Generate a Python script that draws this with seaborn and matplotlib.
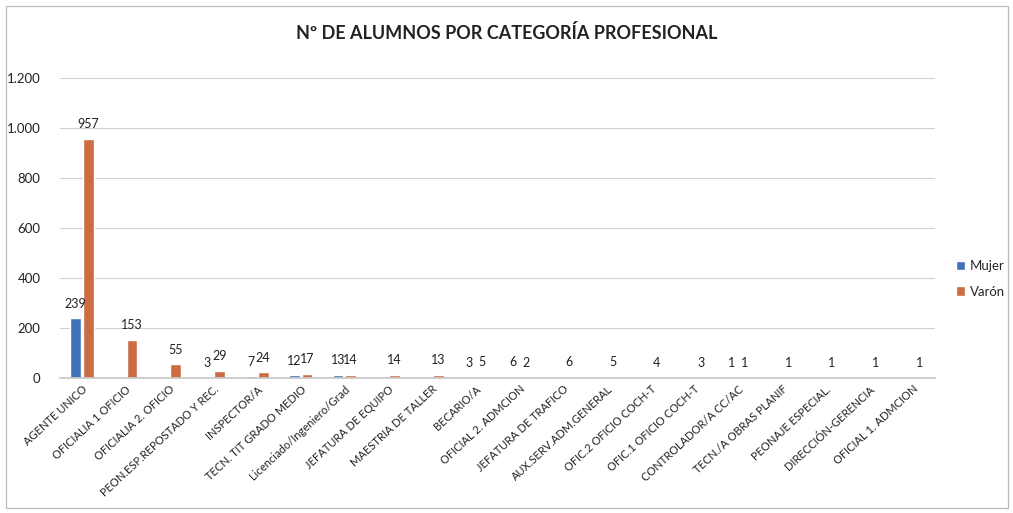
import numpy as np
import pandas as pd
import matplotlib
matplotlib.use("Agg")
import matplotlib.pyplot as plt
from matplotlib.patches import Rectangle
import seaborn as sns

categorias = [
    "AGENTE UNICO", "OFICIALIA 1 OFICIO", "OFICIALIA 2. OFICIO",
    "PEON.ESP.REPOSTADO Y REC.", "INSPECTOR/A", "TECN. TIT GRADO MEDIO",
    "Licenciado/Ingeniero/Grad", "JEFATURA DE EQUIPO", "MAESTRIA DE TALLER",
    "BECARIO/A", "OFICIAL 2. ADMCION", "JEFATURA DE TRAFICO",
    "AUX.SERV.ADM.GENERAL", "OFIC.2 OFICIO COCH-T", "OFIC.1 OFICIO COCH-T",
    "CONTROLADOR/A CC/AC", "TECN./A OBRAS PLANIF", "PEONAJE ESPECIAL.",
    "DIRECCIÓN-GERENCIA", "OFICIAL 1. ADMCION",
]
mujer = [239, np.nan, np.nan, 3, 7, 12, 13, np.nan, np.nan, 3, 6, np.nan,
         np.nan, np.nan, np.nan, 1, np.nan, np.nan, np.nan, np.nan]
varon = [957, 153, 55, 29, 24, 17, 14, 14, 13, 5, 2, 6, 5, 4, 3, 1, 1, 1, 1, 1]
sexos = ["Mujer", "Varón"]
colores = ["#2E6DC9", "#E2632C"]
y_ticks = [0, 200, 400, 600, 800, 1000, 1200]

df = pd.DataFrame({
    "categoria": categorias * 2,
    "sexo": [sexos[0]] * len(categorias) + [sexos[1]] * len(categorias),
    "alumnos": list(mujer) + list(varon),
})

sns.set_theme(style="white")
plt.rcParams["font.family"] = ["Lato", "DejaVu Sans"]

fig = plt.figure(figsize=(10.13, 5.13), dpi=100)
ax = fig.add_axes([60 / 1013, 1 - 378 / 513, 875 / 1013, 300 / 513])

sns.barplot(data=df.dropna(), x="categoria", y="alumnos", hue="sexo",
            order=categorias, hue_order=sexos, palette=colores,
            width=0.58, gap=0.15, ax=ax, legend=True)

for cont in ax.containers:
    ax.bar_label(cont, fmt="%d", padding=6, fontsize=9, color="#222222")

ax.set_ylim(0, 1200)
ax.set_yticks(y_ticks)
ax.set_yticklabels([f"{v:,}".replace(",", ".") for v in y_ticks],
                   fontsize=9.5, color="#222222")
ax.yaxis.grid(True, color="#D0D0D0", linewidth=0.8)
ax.set_axisbelow(True)
for s in ["top", "right", "left"]:
    ax.spines[s].set_visible(False)
ax.spines["bottom"].set_color("#C8C8C8")
ax.tick_params(axis="y", length=0, pad=14)
ax.tick_params(axis="x", length=0, pad=4)
ax.set_xticks(range(len(categorias)))
ax.set_xticklabels(categorias, rotation=43, ha="right", rotation_mode="anchor",
                   fontsize=8, color="#222222")
ax.set_xlabel("")
ax.set_ylabel("")

leg = ax.legend(loc="center left", bbox_to_anchor=(1.01, 0.33), frameon=False,
                fontsize=9.5, handlelength=0.7, handleheight=0.7,
                handletextpad=0.4, labelspacing=1.0)

fig.text(0.5, 1 - 33 / 513, "Nº DE ALUMNOS POR CATEGORÍA PROFESIONAL",
         ha="center", va="center", fontsize=13, fontweight="bold",
         color="#222222")

fig.patches.append(Rectangle((6 / 1013, 5 / 513), 1002 / 1013, 502 / 513,
                             transform=fig.transFigure, fill=False,
                             edgecolor="#BBBBBB", linewidth=0.9))

fig.savefig("out.png", dpi=100, facecolor="white")
